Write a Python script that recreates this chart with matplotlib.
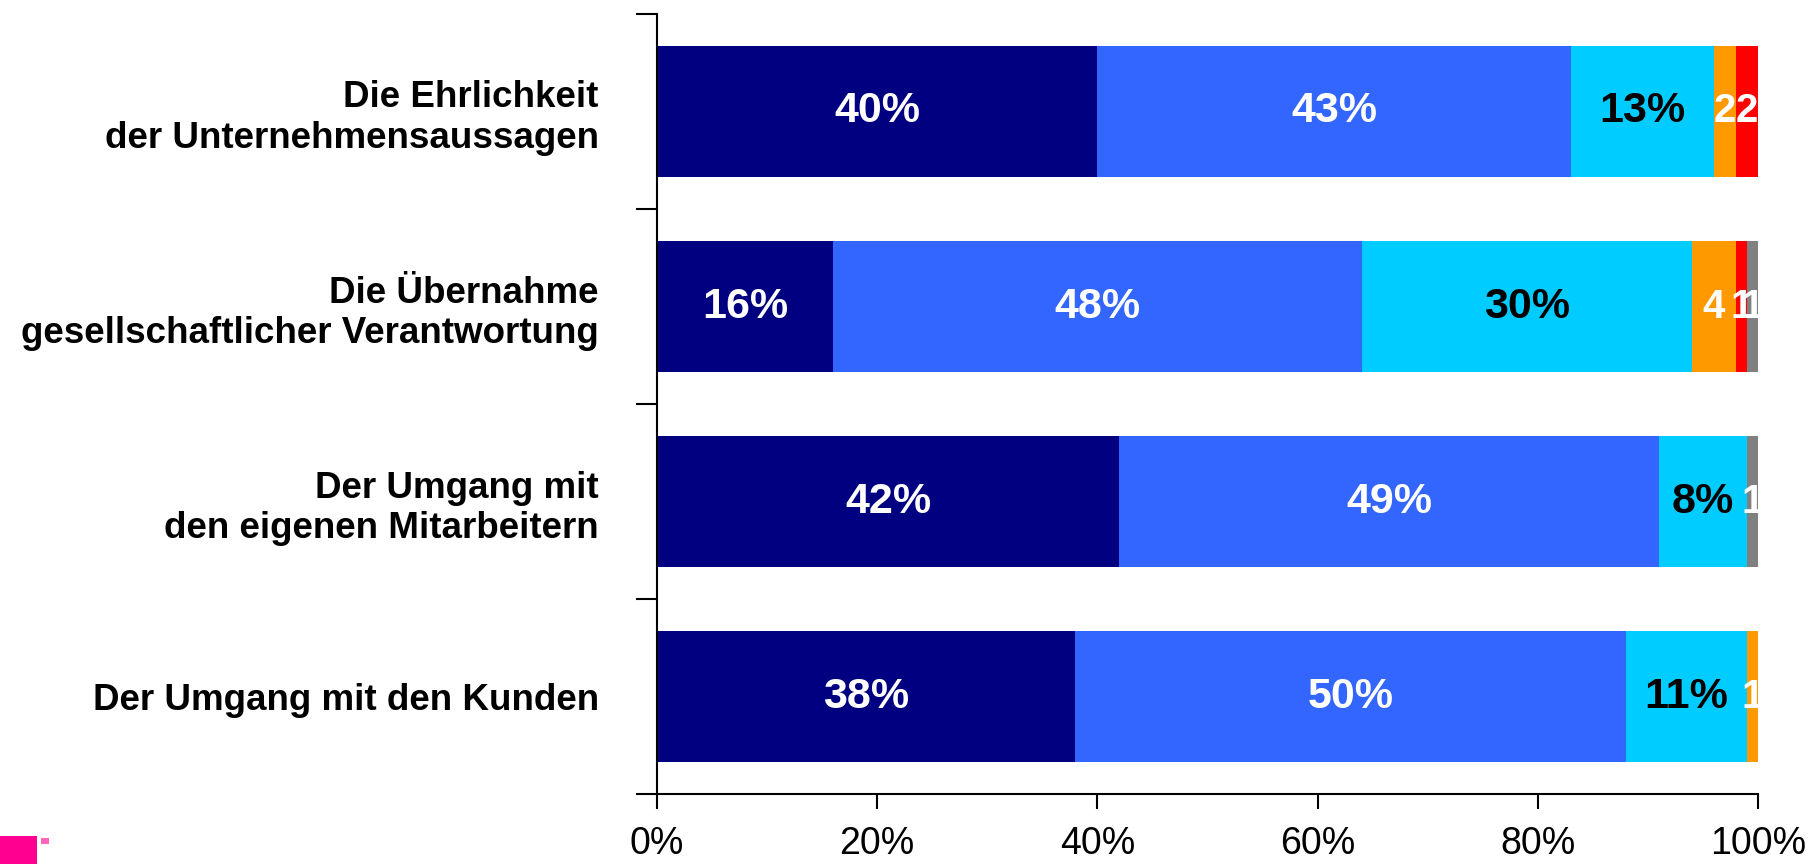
import matplotlib
matplotlib.use("Agg")
import matplotlib.pyplot as plt
from matplotlib.patches import Rectangle
import numpy as np

plt.rcParams['font.family'] = ['Liberation Sans', 'DejaVu Sans']

categories = [
    "Die Ehrlichkeit\nder Unternehmensaussagen",
    "Die Übernahme\ngesellschaftlicher Verantwortung",
    "Der Umgang mit\nden eigenen Mitarbeitern",
    "Der Umgang mit den Kunden",
]
s1 = [40, 16, 42, 38]
s2 = [43, 48, 49, 50]
s3 = [13, 30, 8, 11]
s4 = [2, 4, 0, 1]
s5 = [2, 1, 0, 0]
s6 = [0, 1, 1, 0]
series = [s1, s2, s3, s4, s5, s6]
colors = ["#000080", "#3366FF", "#00CCFF", "#FF9900", "#FF0000", "#808080"]
text_colors = ["white", "white", "black", "white", "white", "white"]
show_pct = [True, True, True, False, False, False]
xticks = [0, 20, 40, 60, 80, 100]
xticklabels = ["0%", "20%", "40%", "60%", "80%", "100%"]

fig = plt.figure(figsize=(18.18, 8.64), dpi=100)
ax = fig.add_axes([0.3614, 0.081, 0.967 - 0.3614, 0.9838 - 0.081])

y = np.arange(len(categories))
left = np.zeros(len(categories))
for vals, c, tc, pct in zip(series, colors, text_colors, show_pct):
    vals = np.array(vals, dtype=float)
    ax.barh(y, vals, left=left, height=0.67, color=c, edgecolor='none')
    for yi, (l, v) in enumerate(zip(left, vals)):
        if v > 0:
            lab = f"{int(v)}%" if pct else f"{int(v)}"
            ax.text(l + v / 2, yi, lab, ha='center', va='center',
                    color=tc, fontsize=31 if pct else 29, fontweight='bold',
                    clip_on=True)
    left += vals

ax.set_ylim(len(categories) - 0.5, -0.5)
ax.set_xlim(0, 100)
ax.set_yticks(y)
ax.set_yticklabels(categories, fontsize=26.5, fontweight='bold', linespacing=1.2)
ax.tick_params(axis='y', which='major', length=0, pad=42)
ax.set_yticks(np.arange(-0.5, len(categories), 1.0), minor=True)
ax.tick_params(axis='y', which='minor', length=15, width=1.5, direction='out')
ax.set_xticks(xticks)
ax.set_xticklabels(xticklabels, fontsize=27)
ax.tick_params(axis='x', length=11, width=1.5, direction='out', pad=12)
for lab in ax.get_yticklabels():
    lab.set_horizontalalignment('right')

for s in ['top', 'right']:
    ax.spines[s].set_visible(False)
for s in ['left', 'bottom']:
    ax.spines[s].set_linewidth(1.5)

# small logo mark at bottom-left
fig.patches.append(Rectangle((0, 0), 37 / 1818, 28 / 864, transform=fig.transFigure,
                             facecolor="#FF0090", edgecolor='none'))
fig.patches.append(Rectangle((41 / 1818, 20 / 864), 8 / 1818, 6 / 864, transform=fig.transFigure,
                             facecolor="#FF66BB", edgecolor='none'))

fig.savefig("out.png", dpi=100)
